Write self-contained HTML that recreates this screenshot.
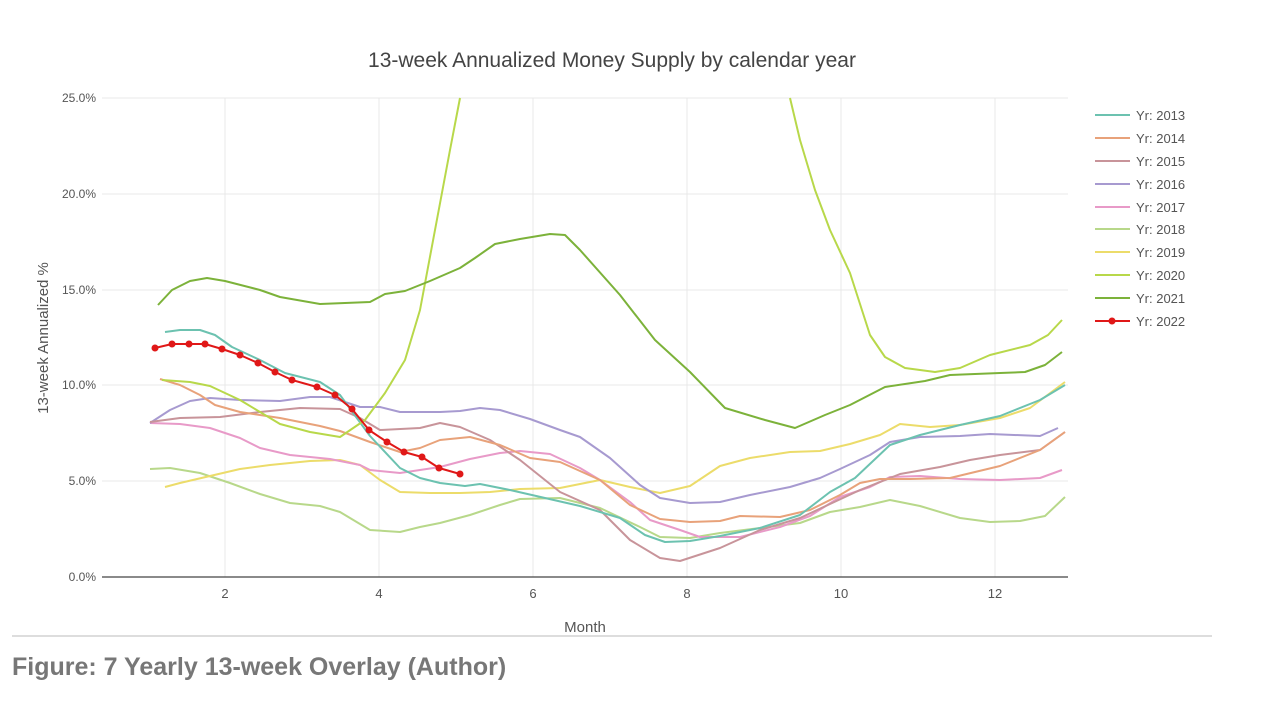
<!DOCTYPE html>
<html><head><meta charset="utf-8"><style>
body{margin:0;background:#fff;width:1262px;height:700px;overflow:hidden;font-family:"Liberation Sans",sans-serif}
</style></head><body>
<svg width="1262" height="700" xmlns="http://www.w3.org/2000/svg" font-family="Liberation Sans, sans-serif">
<text x="612" y="67" font-size="21" fill="#444" text-anchor="middle">13-week Annualized Money Supply by calendar year</text>
<g stroke="#e8e8e8" stroke-width="1">
<line x1="225" y1="98" x2="225" y2="577"/><line x1="379" y1="98" x2="379" y2="577"/><line x1="533" y1="98" x2="533" y2="577"/>
<line x1="687" y1="98" x2="687" y2="577"/><line x1="841" y1="98" x2="841" y2="577"/><line x1="995" y1="98" x2="995" y2="577"/>
<line x1="102" y1="98" x2="1068" y2="98"/><line x1="102" y1="194" x2="1068" y2="194"/><line x1="102" y1="290" x2="1068" y2="290"/>
<line x1="102" y1="385" x2="1068" y2="385"/><line x1="102" y1="481" x2="1068" y2="481"/>
</g>
<line x1="102" y1="577" x2="1068" y2="577" stroke="#444" stroke-width="1.2"/>
<g font-size="12" fill="#555" text-anchor="end">
<text x="96" y="102">25.0%</text><text x="96" y="198">20.0%</text><text x="96" y="294">15.0%</text>
<text x="96" y="389">10.0%</text><text x="96" y="485">5.0%</text><text x="96" y="581">0.0%</text>
</g>
<g font-size="13" fill="#555" text-anchor="middle">
<text x="225" y="598">2</text><text x="379" y="598">4</text><text x="533" y="598">6</text><text x="687" y="598">8</text><text x="841" y="598">10</text><text x="995" y="598">12</text>
<text x="585" y="632" font-size="15">Month</text>
</g>
<text transform="translate(48,338) rotate(-90)" font-size="15" fill="#555" text-anchor="middle">13-week Annualized %</text>
<g fill="none" stroke-width="2" stroke-linejoin="round">
<polyline stroke="#b8d88a" points="150,469 170,468 200,473 230,483 260,494 290,503 320,506 340,512 370,530 400,532 420,527 440,523 470,515 500,505 520,499 560,498 600,508 640,527 660,537 690,538 720,533 760,528 800,523 830,512 860,507 890,500 920,506 960,518 990,522 1020,521 1045,516 1065,497"/>
<polyline stroke="#ecdc6a" points="165,487 180,483 210,476 240,469 270,465 310,461 340,460 360,465 380,480 400,492 430,493 460,493 490,492 520,489 560,488 600,480 630,487 660,493 690,486 720,466 750,458 790,452 820,451 850,444 880,435 900,424 930,427 960,425 1000,418 1030,408 1065,382"/>
<polyline stroke="#e89ac8" points="150,423 180,424 210,428 240,438 260,448 290,455 330,459 360,465 370,470 400,473 440,467 470,459 500,453 520,451 550,454 580,468 600,480 630,502 650,520 680,530 700,537 740,537 780,527 810,516 840,497 870,487 890,477 920,476 960,479 1000,480 1040,478 1062,470"/>
<polyline stroke="#a79ad0" points="150,423 170,410 190,401 210,398 240,400 280,401 310,397 330,397 360,407 380,407 400,412 440,412 460,411 480,408 500,410 530,419 560,430 580,437 610,458 640,485 660,498 690,503 720,502 750,495 790,487 820,478 840,469 870,455 890,442 920,437 960,436 990,434 1040,436 1058,428"/>
<polyline stroke="#c8949a" points="150,422 180,418 220,417 260,412 300,408 340,409 360,418 380,430 420,428 440,423 460,427 490,440 520,460 560,492 600,510 630,540 660,558 680,561 720,548 760,530 800,518 830,504 860,490 900,474 940,467 970,460 1000,455 1040,450 1065,432"/>
<polyline stroke="#e8a27a" points="160,379 180,385 200,395 215,405 240,412 280,418 320,426 340,431 370,442 400,452 420,448 440,440 470,437 500,445 530,458 560,462 600,480 630,505 660,519 690,522 720,521 740,516 780,517 810,510 840,495 860,483 880,479 910,479 950,478 1000,466 1040,450 1065,432"/>
<polyline stroke="#6cc2b0" points="165,332 180,330 200,330 215,335 232,347 260,360 285,373 320,382 340,395 370,436 400,468 420,478 440,483 465,486 480,484 510,490 545,498 580,506 620,518 645,535 665,542 690,541 720,536 760,528 800,515 830,492 855,478 890,445 920,435 960,425 1000,416 1040,400 1065,385"/>
<polyline stroke="#b8d84a" points="162,380 190,382 210,386 240,400 260,412 280,424 310,432 340,437 365,420 385,393 405,360 420,310 435,230 450,150 460,98"/>
<polyline stroke="#b8d84a" points="790,98 800,140 815,190 830,230 850,273 870,335 885,357 905,368 935,372 960,368 990,355 1030,345 1048,335 1062,320"/>
<polyline stroke="#7cb23a" points="158,305 172,290 190,281 207,278 225,281 260,290 280,297 320,304 345,303 370,302 385,294 405,291 430,281 460,268 475,258 495,244 520,239 550,234 565,235 580,250 620,295 655,340 690,372 725,408 765,420 795,428 825,415 850,405 885,387 925,381 950,375 975,374 1000,373 1025,372 1045,365 1062,352"/>
<polyline stroke="#e01818" points="155,348 172,344 189,344 205,344 222,349 240,355 258,363 275,372 292,380 317,387 335,395 352,409 369,430 387,442 404,452 422,457 439,468 460,474"/>
</g>
<g fill="#e01818">
<circle cx="155" cy="348" r="3.5"/><circle cx="172" cy="344" r="3.5"/><circle cx="189" cy="344" r="3.5"/><circle cx="205" cy="344" r="3.5"/><circle cx="222" cy="349" r="3.5"/><circle cx="240" cy="355" r="3.5"/><circle cx="258" cy="363" r="3.5"/><circle cx="275" cy="372" r="3.5"/><circle cx="292" cy="380" r="3.5"/><circle cx="317" cy="387" r="3.5"/><circle cx="335" cy="395" r="3.5"/><circle cx="352" cy="409" r="3.5"/><circle cx="369" cy="430" r="3.5"/><circle cx="387" cy="442" r="3.5"/><circle cx="404" cy="452" r="3.5"/><circle cx="422" cy="457" r="3.5"/><circle cx="439" cy="468" r="3.5"/><circle cx="460" cy="474" r="3.5"/>
</g>
<g font-size="13" fill="#555" stroke-width="2">
<line x1="1095" y1="115" x2="1130" y2="115" stroke="#6cc2b0"/><text x="1136" y="120">Yr: 2013</text>
<line x1="1095" y1="138" x2="1130" y2="138" stroke="#e8a27a"/><text x="1136" y="143">Yr: 2014</text>
<line x1="1095" y1="161" x2="1130" y2="161" stroke="#c8949a"/><text x="1136" y="166">Yr: 2015</text>
<line x1="1095" y1="184" x2="1130" y2="184" stroke="#a79ad0"/><text x="1136" y="189">Yr: 2016</text>
<line x1="1095" y1="207" x2="1130" y2="207" stroke="#e89ac8"/><text x="1136" y="212">Yr: 2017</text>
<line x1="1095" y1="229" x2="1130" y2="229" stroke="#b8d88a"/><text x="1136" y="234">Yr: 2018</text>
<line x1="1095" y1="252" x2="1130" y2="252" stroke="#ecdc6a"/><text x="1136" y="257">Yr: 2019</text>
<line x1="1095" y1="275" x2="1130" y2="275" stroke="#b8d84a"/><text x="1136" y="280">Yr: 2020</text>
<line x1="1095" y1="298" x2="1130" y2="298" stroke="#7cb23a"/><text x="1136" y="303">Yr: 2021</text>
<line x1="1095" y1="321" x2="1130" y2="321" stroke="#e01818"/><circle cx="1112" cy="321" r="3.5" fill="#e01818"/><text x="1136" y="326">Yr: 2022</text>
</g>
<line x1="12" y1="636" x2="1212" y2="636" stroke="#bbb" stroke-width="1"/>
<text x="12" y="675" font-size="25" font-weight="bold" fill="#777">Figure: 7 Yearly 13-week Overlay (Author)</text>
</svg>
</body></html>
